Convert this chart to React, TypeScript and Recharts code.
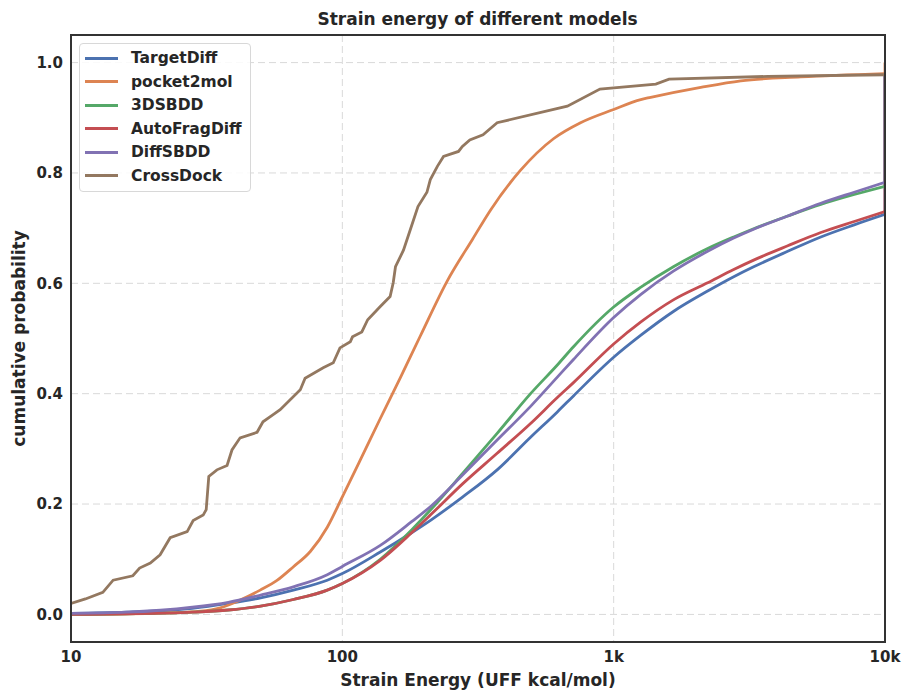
import { LineChart, Line, XAxis, YAxis, CartesianGrid, Legend } from 'recharts';

// shared energy grid (kcal/mol) for the four diffusion-style models
const ENERGY_GRID = [
  10, 16, 28, 38, 50, 66, 88, 100, 138, 180, 212, 278, 372, 494, 620, 711, 1000, 1260, 1660, 2220,
  2770, 3280, 4380, 5800, 7700, 10000,
];

const targetDiff = [
  0.002, 0.004, 0.011, 0.02, 0.03, 0.044, 0.062, 0.074, 0.113, 0.148, 0.171, 0.213, 0.262, 0.321,
  0.367, 0.396, 0.466, 0.506, 0.549, 0.586, 0.612, 0.63, 0.658, 0.684, 0.706, 0.725,
];
const sbdd3d = [
  0.0, 0.001, 0.004, 0.008, 0.015, 0.027, 0.044, 0.056, 0.1, 0.153, 0.19, 0.256, 0.328, 0.4, 0.452,
  0.485, 0.557, 0.593, 0.63, 0.663, 0.684, 0.699, 0.722, 0.743, 0.761, 0.776,
];
const autoFragDiff = [
  0.0, 0.001, 0.004, 0.008, 0.015, 0.027, 0.044, 0.056, 0.098, 0.148, 0.181, 0.237, 0.292, 0.346,
  0.393, 0.42, 0.49, 0.53, 0.57, 0.601, 0.625, 0.642, 0.668, 0.692, 0.712, 0.73,
];
const diffSbdd = [
  0.002, 0.004, 0.013, 0.022, 0.035, 0.05, 0.072, 0.087, 0.125, 0.168, 0.196, 0.253, 0.316, 0.377,
  0.43, 0.462, 0.538, 0.58, 0.622, 0.658, 0.682, 0.698, 0.722, 0.745, 0.765, 0.783,
];

const pocket2molX = [
  10, 20, 30, 35.5, 42, 49.8, 57.6, 65.9, 76.2, 88, 100, 116.5, 138, 164, 194, 244, 302, 352, 454,
  600, 755, 1000, 1258, 1369, 2094, 2942, 4898, 10000,
];
const pocket2molY = [
  0.0, 0.002, 0.006, 0.012, 0.026, 0.044, 0.062, 0.086, 0.114, 0.158, 0.213, 0.28, 0.355, 0.43,
  0.505, 0.605, 0.68, 0.733, 0.805, 0.862, 0.891, 0.915, 0.933, 0.937, 0.955, 0.967, 0.974, 0.98,
];

const crossDockX = [
  10, 11.3, 13.1, 14.3, 16.9, 17.9, 19.6, 21.3, 23.2, 26.8, 28.2, 30.7, 31.5, 32.2, 34.5, 37.6, 39.2,
  42, 48.5, 51, 55.6, 59, 70, 72.9, 85, 92.6, 98, 107, 109, 118, 124, 138, 150, 154, 157, 168, 178,
  190, 205, 211, 224, 236, 268, 277, 295, 330, 372, 675, 890, 1430, 1600, 3700, 10000,
];
const crossDockY = [
  0.02, 0.028, 0.04, 0.062, 0.07, 0.084, 0.093, 0.108, 0.139, 0.15, 0.17, 0.18, 0.19, 0.25, 0.262,
  0.27, 0.298, 0.32, 0.33, 0.349, 0.362, 0.371, 0.407, 0.428, 0.447, 0.456, 0.483, 0.494, 0.503,
  0.512, 0.534, 0.558, 0.576, 0.601, 0.63, 0.66, 0.697, 0.739, 0.765, 0.788, 0.812, 0.83, 0.839,
  0.848, 0.86, 0.869, 0.891, 0.921, 0.952, 0.961, 0.97, 0.975, 0.978,
];

// last-step jump of each CDF at the 10k cut-off (TargetDiff, pocket2mol, 3DSBDD, AutoFragDiff, DiffSBDD)
const TAIL_TOPS = [0.98, 1.0, 0.98, 0.98, 0.98];

const X_TICKS = [10, 100, 1000, 10000];
const X_TICK_LABELS = ['10', '100', '1k', '10k'];
const Y_TICKS = [0, 0.2, 0.4, 0.6, 0.8, 1.0];

const zip = (xs: number[], ys: number[]) => xs.map((x, i) => ({ x, y: ys[i] }));

const SERIES = [
  { name: 'TargetDiff', color: '#4C72B0', data: zip(ENERGY_GRID, targetDiff), curve: 'monotone' },
  { name: 'pocket2mol', color: '#DD8452', data: zip(pocket2molX, pocket2molY), curve: 'monotone' },
  { name: '3DSBDD', color: '#55A868', data: zip(ENERGY_GRID, sbdd3d), curve: 'monotone' },
  { name: 'AutoFragDiff', color: '#C44E52', data: zip(ENERGY_GRID, autoFragDiff), curve: 'monotone' },
  { name: 'DiffSBDD', color: '#8172B3', data: zip(ENERGY_GRID, diffSbdd), curve: 'monotone' },
  { name: 'CrossDock', color: '#937860', data: zip(crossDockX, crossDockY), curve: 'linear' },
] as const;

const TAILS = TAIL_TOPS.map((top, i) => {
  const s = SERIES[i];
  const last = s.data[s.data.length - 1];
  return { name: s.name, color: s.color, data: [last, { x: last.x, y: top }] };
});

const FONT = '"DejaVu Sans", sans-serif';
const TEXT = '#262626';

const LegendBox = () => (
  <div
    style={{
      width: 172,
      height: 149,
      boxSizing: 'border-box',
      border: '1px solid #d8d8d8',
      borderRadius: 4,
      background: 'rgba(255,255,255,0.85)',
      padding: '2.5px 0 0 5px',
      fontFamily: FONT,
      fontWeight: 'bold',
      fontSize: 15.5,
      color: TEXT,
    }}
  >
    {SERIES.map((s) => (
      <div key={s.name} style={{ height: 23.5, display: 'flex', alignItems: 'center' }}>
        <span style={{ width: 33, height: 3, background: s.color, marginRight: 13 }} />
        <span>{s.name}</span>
      </div>
    ))}
  </div>
);

export default function App() {
  return (
    <div style={{ position: 'absolute', left: 0, top: 0, width: 902, height: 690, background: '#fff' }}>
      <div
        style={{
          position: 'absolute',
          left: 71,
          width: 813,
          top: 9,
          textAlign: 'center',
          fontFamily: FONT,
          fontWeight: 'bold',
          fontSize: 17,
          color: TEXT,
        }}
      >
        Strain energy of different models
      </div>
      <LineChart width={902} height={690} margin={{ top: 35, right: 17, bottom: 0, left: 0 }}>
        <CartesianGrid stroke="#d9d9d9" strokeDasharray="7 4" strokeWidth={1} />
        <XAxis
          dataKey="x"
          type="number"
          scale="log"
          domain={[10, 10000]}
          ticks={X_TICKS}
          allowDataOverflow
          height={48}
          tickLine={false}
          axisLine={false}
          tickSize={0}
          tickMargin={9}
          tickFormatter={(v: number) => X_TICK_LABELS[X_TICKS.indexOf(v)] ?? String(v)}
          tick={{ fill: TEXT, fontSize: 15, fontWeight: 'bold', fontFamily: FONT }}
          label={{
            value: 'Strain Energy (UFF kcal/mol)',
            position: 'insideBottom',
            offset: 4,
            style: { fill: TEXT, fontSize: 17, fontWeight: 'bold', fontFamily: FONT },
          }}
        />
        <YAxis
          type="number"
          domain={[-0.05, 1.05]}
          ticks={Y_TICKS}
          allowDataOverflow
          width={71}
          tickLine={false}
          axisLine={false}
          tickSize={0}
          tickMargin={8}
          tickFormatter={(v: number) => v.toFixed(1)}
          tick={{ fill: TEXT, fontSize: 15, fontWeight: 'bold', fontFamily: FONT }}
          label={{
            value: 'cumulative probability',
            angle: -90,
            position: 'insideLeft',
            offset: 19,
            style: { fill: TEXT, fontSize: 17, fontWeight: 'bold', fontFamily: FONT, textAnchor: 'middle' },
          }}
        />
        <Legend
          layout="horizontal"
          verticalAlign="middle"
          align="center"
          content={() => <LegendBox />}
          wrapperStyle={{ left: 79, top: 43, width: 172, height: 149 }}
        />
        {TAILS.map((t) => (
          <Line
            key={`${t.name}-tail`}
            data={t.data}
            dataKey="y"
            type="linear"
            stroke={t.color}
            strokeWidth={2.8}
            dot={false}
            activeDot={false}
            legendType="none"
            isAnimationActive={false}
          />
        ))}
        {SERIES.map((s) => (
          <Line
            key={s.name}
            data={s.data}
            dataKey="y"
            name={s.name}
            type={s.curve}
            stroke={s.color}
            strokeWidth={2.8}
            dot={false}
            activeDot={false}
            isAnimationActive={false}
          />
        ))}
      </LineChart>
      <div
        style={{
          position: 'absolute',
          left: 70,
          top: 34,
          width: 816,
          height: 609,
          boxSizing: 'border-box',
          border: '2px solid #333',
          pointerEvents: 'none',
        }}
      />
    </div>
  );
}
